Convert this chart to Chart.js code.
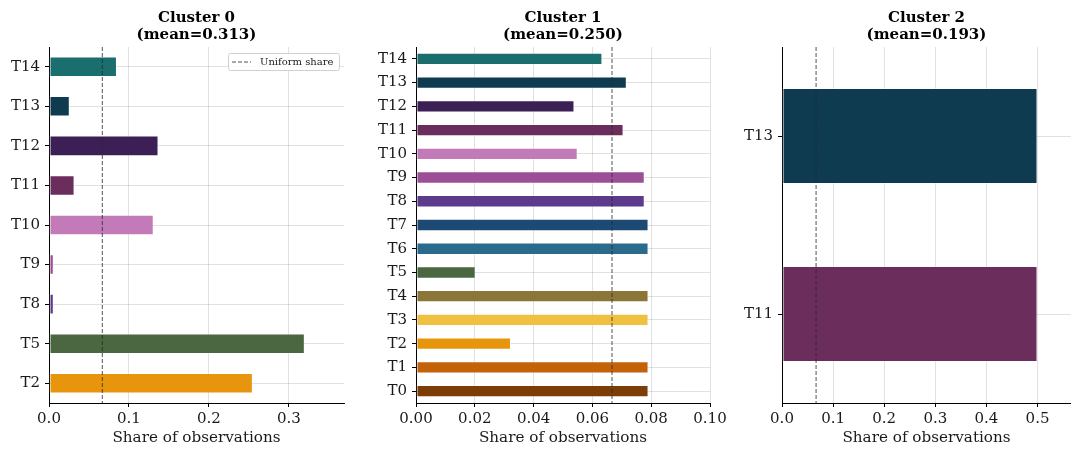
<!DOCTYPE html>
<html>
<head>
<meta charset="utf-8">
<script src="https://cdn.jsdelivr.net/npm/chart.js@4/dist/chart.umd.min.js"></script>
<style>
  html, body { margin: 0; padding: 0; background: #fff; }
  #wrap { position: relative; width: 1071px; height: 450px; overflow: hidden; }
  canvas { position: absolute; top: 0; }
</style>
</head>
<body>
<div id="wrap">
  <canvas id="c0" width="360" height="450" style="left:0px"></canvas>
  <canvas id="c1" width="380" height="450" style="left:360px"></canvas>
  <canvas id="c2" width="351" height="450" style="left:720px"></canvas>
</div>
<script>
// ── DATA ──
const cluster0Labels = ['T14','T13','T12','T11','T10','T9','T8','T5','T2'];
const cluster0Values = [0.085, 0.026, 0.137, 0.032, 0.131, 0.006, 0.006, 0.320, 0.255];

const cluster1Labels = ['T14','T13','T12','T11','T10','T9','T8','T7','T6','T5','T4','T3','T2','T1','T0'];
const cluster1Values = [0.0634, 0.0717, 0.0539, 0.0706, 0.0550, 0.0778, 0.0778, 0.0791, 0.0791,
                        0.0203, 0.0791, 0.0791, 0.0323, 0.0791, 0.0791];

const cluster2Labels = ['T13','T11'];
const cluster2Values = [0.5, 0.5];

const clusterTitles = ['Cluster 0', 'Cluster 1', 'Cluster 2'];
const clusterMeans  = ['0.313', '0.250', '0.193'];
const uniformShare  = 1 / 15;

// topic colours
const TOPIC_COLOURS = {
  T0: '#7c3e06', T1: '#c4620a', T2: '#e8950e', T3: '#f0c040', T4: '#8b7637',
  T5: '#4a6741', T6: '#2a6a8c', T7: '#1d4a74', T8: '#5c3a8c', T9: '#9c4f96',
  T10: '#c27ab8', T11: '#6b2d5c', T12: '#3b1f55', T13: '#0f3b50', T14: '#1b6e6e'
};

const FONT = 'DejaVu Serif';

// ── PLUGINS ──
const titlePlugin = {
  id: 'panelTitle',
  afterDraw(chart, args, opts) {
    const { ctx, chartArea } = chart;
    const cx = (chartArea.left + chartArea.right) / 2;
    ctx.save();
    ctx.fillStyle = '#000';
    ctx.font = `bold 15px "${FONT}"`;
    ctx.textAlign = 'center';
    ctx.textBaseline = 'middle';
    ctx.fillText(opts.line1, cx, 18);
    ctx.fillText(opts.line2, cx, 35);
    ctx.restore();
  }
};

const uniformPlugin = {
  id: 'uniformLine',
  afterDraw(chart, args, opts) {
    const { ctx, chartArea, scales } = chart;
    const x = scales.x.getPixelForValue(opts.value);
    ctx.save();
    ctx.strokeStyle = 'rgba(40,40,40,0.8)';
    ctx.lineWidth = 1;
    ctx.setLineDash([4, 2]);
    ctx.beginPath();
    ctx.moveTo(x, chartArea.top);
    ctx.lineTo(x, chartArea.bottom);
    ctx.stroke();

    if (opts.legend) {
      ctx.setLineDash([]);
      const w = 111, h = 17;
      const bx = chartArea.right - w - 5, by = chartArea.top + 6;
      ctx.fillStyle = 'rgba(255,255,255,0.85)';
      ctx.strokeStyle = '#d0d0d0';
      ctx.beginPath();
      ctx.roundRect(bx + 0.5, by + 0.5, w, h, 2);
      ctx.fill();
      ctx.stroke();
      ctx.strokeStyle = 'rgba(40,40,40,0.8)';
      ctx.setLineDash([4, 2]);
      ctx.beginPath();
      ctx.moveTo(bx + 4, by + h / 2 + 0.5);
      ctx.lineTo(bx + 23, by + h / 2 + 0.5);
      ctx.stroke();
      ctx.fillStyle = '#222';
      ctx.font = `10px "${FONT}"`;
      ctx.textBaseline = 'middle';
      ctx.fillText('Uniform share', bx + 32, by + h / 2 + 1);
    }
    ctx.restore();
  }
};

// ── CHART BUILDER ──
function makePanel(id, i, labels, values, cfg) {
  const ctx = document.getElementById(id).getContext('2d');
  return new Chart(ctx, {
    type: 'bar',
    data: {
      labels: labels,
      datasets: [{
        data: values,
        backgroundColor: labels.map(l => TOPIC_COLOURS[l]),
        borderColor: 'rgba(255,255,255,0.35)',
        borderWidth: 1,
        borderSkipped: false,
        categoryPercentage: 1,
        barPercentage: cfg.barPct,
      }]
    },
    options: {
      responsive: false, animation: false, devicePixelRatio: 1,
      indexAxis: 'y',
      layout: { padding: { top: 47, right: cfg.padRight, left: 0, bottom: 0 } },
      plugins: {
        legend: { display: false },
        tooltip: { enabled: false },
        panelTitle: { line1: clusterTitles[i], line2: `(mean=${clusterMeans[i]})` },
        uniformLine: { value: uniformShare, legend: i === 0 },
      },
      scales: {
        x: {
          type: 'linear', min: 0, max: cfg.max, z: 1,
          afterFit: s => { s.height = 47; },
          grid: { color: 'rgba(170,170,170,0.35)', tickColor: '#000', tickLength: 4 },
          border: { color: '#000', width: 1 },
          ticks: {
            stepSize: cfg.step, includeBounds: false, padding: 3,
            color: '#1a1a1a', font: { family: FONT, size: 15 },
            callback: v => v.toFixed(cfg.decimals), maxRotation: 0,
          },
          title: {
            display: true, text: 'Share of observations', color: '#1a1a1a',
            font: { family: FONT, size: 15.2 }, padding: { top: 0, bottom: 3 },
          },
        },
        y: {
          z: 1,
          afterFit: s => { s.width = cfg.yWidth; },
          grid: { offset: false, color: 'rgba(170,170,170,0.35)', tickColor: '#000', tickLength: 4 },
          border: { color: '#000', width: 1 },
          ticks: { padding: 5, color: '#1a1a1a', font: { family: FONT, size: 15 } },
        }
      }
    },
    plugins: [titlePlugin, uniformPlugin]
  });
}

makePanel('c0', 0, cluster0Labels, cluster0Values,
  { max: 0.369, step: 0.1, decimals: 1, yWidth: 49, padRight: 16, barPct: 0.52 });
makePanel('c1', 1, cluster1Labels, cluster1Values,
  { max: 0.1, step: 0.02, decimals: 2, yWidth: 56, padRight: 30, barPct: 0.52 });
makePanel('c2', 2, cluster2Labels, cluster2Values,
  { max: 0.5655, step: 0.1, decimals: 1, yWidth: 62, padRight: 0, barPct: 0.54 });
</script>
</body>
</html>
